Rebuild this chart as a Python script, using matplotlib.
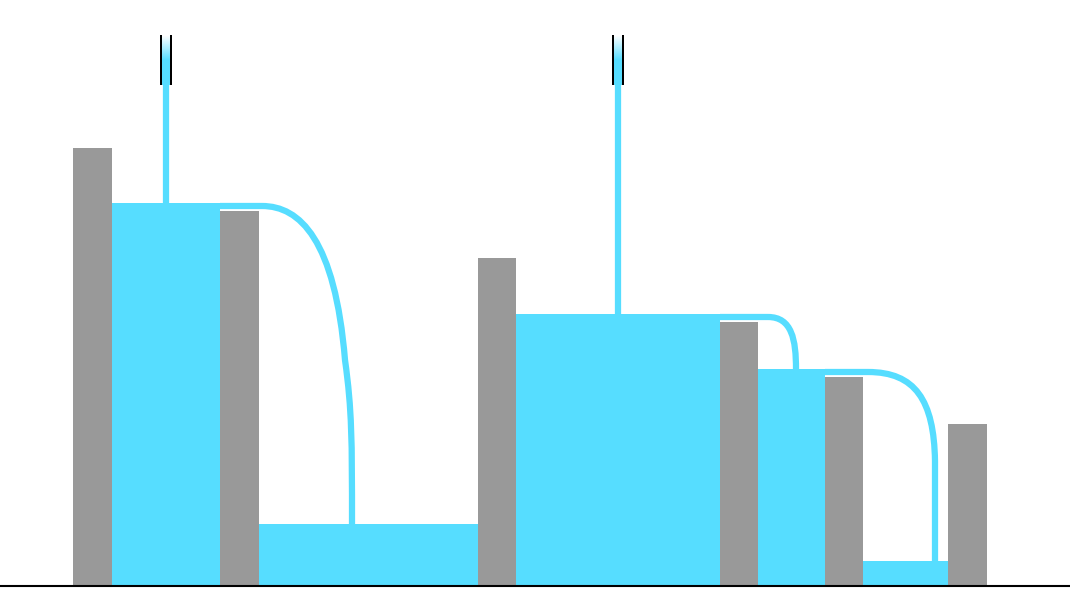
import numpy as np
import matplotlib
matplotlib.use("Agg")
import matplotlib.pyplot as plt
from matplotlib.path import Path
from matplotlib.patches import PathPatch, Rectangle

WATER = "#56ddff"
WALL = "#999999"
BASE = 586

# walls: left x, width, top y (pixel coordinates, y downward)
wall_x = [73, 220, 478, 720, 825, 948]
wall_w = [39, 39, 38, 38, 38, 39]
wall_top = [148, 211, 258, 322, 377, 424]

# water pools between walls: left, right, surface
pool_left = [112, 259, 516, 758, 863]
pool_right = [220, 478, 720, 825, 948]
pool_top = [203, 524, 314, 369, 561]

# taps: x position, bottom of stream
tap_x = [166, 618]
tap_end = [203, 314]

# overflow streams as cubic bezier segments
overflows = [
    [(220, 206), (262, 206), (262, 206), (262, 206),
     (300, 206), (335, 240), (345, 360),
     (352, 410), (352, 440), (352, 524)],
    [(720, 317), (768, 317), (768, 317), (768, 317),
     (792, 317), (796, 340), (796, 369)],
    [(825, 372), (868, 372), (868, 372), (868, 372),
     (915, 372), (934, 400), (935, 461),
     (935, 500), (935, 530), (935, 561)],
]

fig = plt.figure(figsize=(10.7, 5.94), dpi=100)
ax = fig.add_axes([0, 0, 1, 1])
ax.set_xlim(0, 1070)
ax.set_ylim(594, 0)
ax.axis("off")

for l, r, t in zip(pool_left, pool_right, pool_top):
    ax.add_patch(Rectangle((l, t), r - l, BASE - t, color=WATER, lw=0))
for x, w, t in zip(wall_x, wall_w, wall_top):
    ax.add_patch(Rectangle((x, t), w, BASE - t, color=WALL, lw=0))

for pts in overflows:
    codes = [Path.MOVETO, Path.LINETO] + [Path.CURVE4] * (len(pts) - 2)
    codes[2:4] = [Path.LINETO, Path.LINETO]
    ax.add_patch(PathPatch(Path(pts, codes), fill=False, ec=WATER, lw=4.5,
                           capstyle="butt"))

for x, e in zip(tap_x, tap_end):
    ax.plot([x, x], [85, e], color=WATER, lw=4.5, solid_capstyle="butt")
    ax.add_patch(Rectangle((x - 6, 35), 12, 50, color="black", lw=0))
    grad = np.linspace(0, 1, 50)[:, None]
    cmap = matplotlib.colors.LinearSegmentedColormap.from_list("t", ["white", WATER, WATER])
    ax.imshow(grad, extent=(x - 4, x + 4, 85, 35), cmap=cmap, aspect="auto", zorder=3)

ax.plot([0, 1070], [BASE, BASE], color="black", lw=1.5)
ax.set_xlim(0, 1070)
ax.set_ylim(594, 0)

fig.savefig("out.png", dpi=100)
